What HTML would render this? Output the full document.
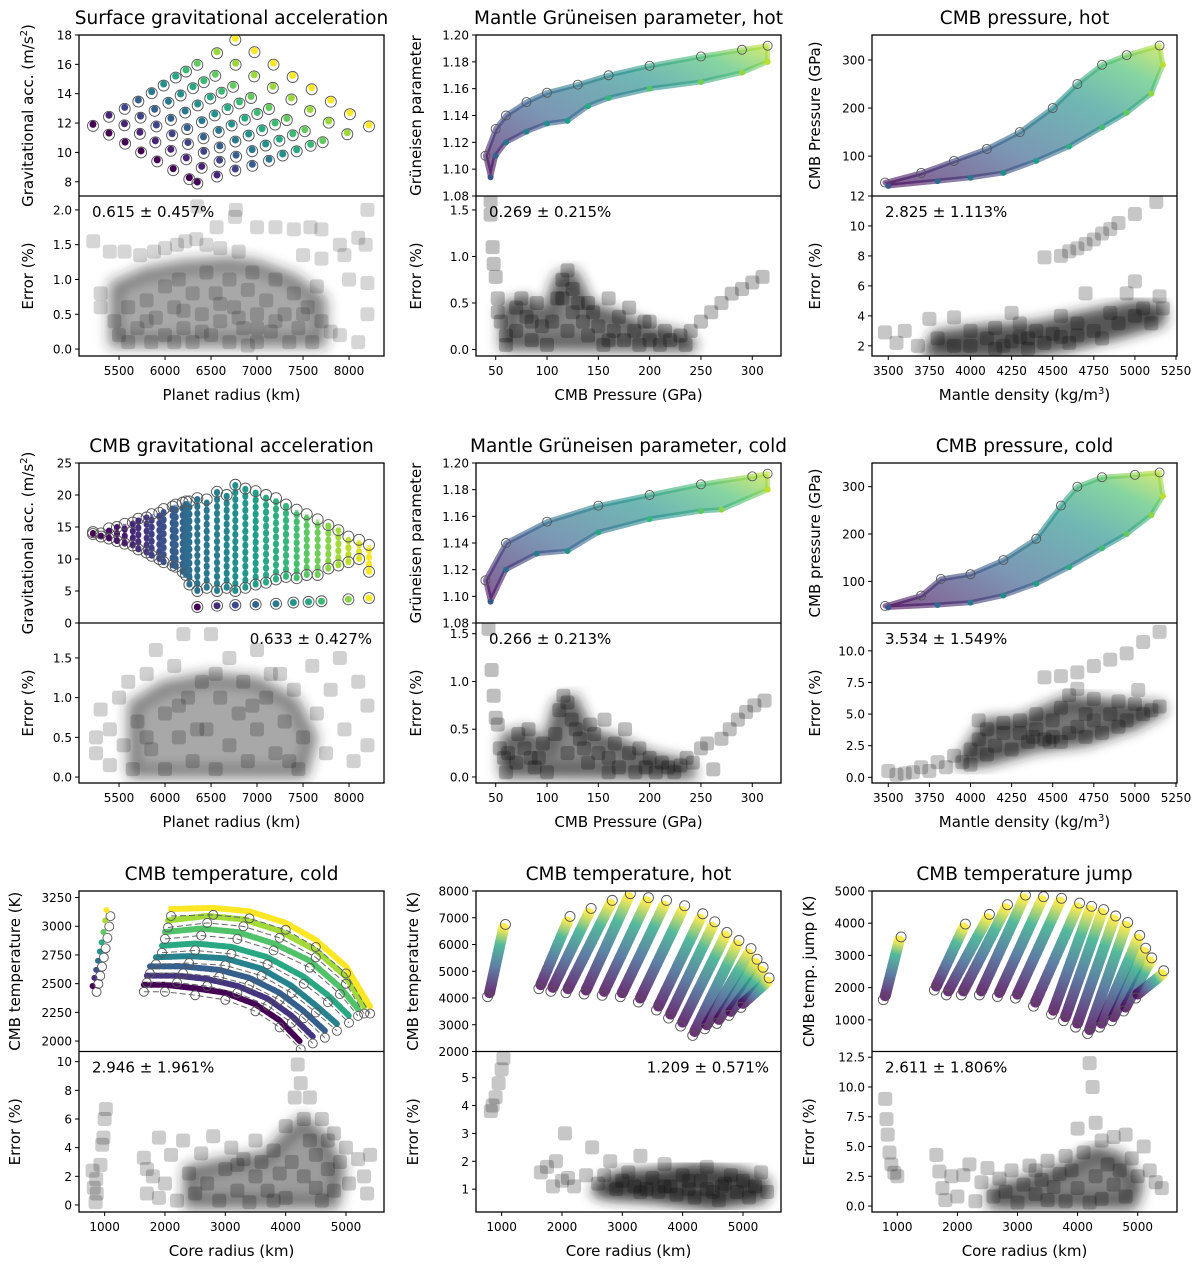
<!DOCTYPE html>
<html><head><meta charset="utf-8">
<style>
html,body{margin:0;padding:0;background:#fff;}
svg{display:block;font-family:"DejaVu Sans","Liberation Sans",sans-serif;}
</style></head>
<body>
<svg id="fig" width="1200" height="1265" viewBox="0 0 1200 1265" xmlns="http://www.w3.org/2000/svg">
<defs><filter id="soft" x="-20%" y="-20%" width="140%" height="140%"><feGaussianBlur stdDeviation="6"/></filter></defs>
</svg>
<script>
// ---------- DATA ----------
const p1R = [5217,5391,5566,5740,5915,6089,6264,6351, 5391,5559,5727,5895,6063,6231,6399,6565, 5562,5734,5906,6077,6249,6421,6593,6764, 5710,5887,6064,6241,6418,6595,6772,6949, 5855,6037,6219,6401,6583,6765,6947,7130, 5985,6170,6355,6540,6724,6909,7094,7279, 6116,6304,6492,6680,6867,7055,7243,7431, 6228,6422,6615,6809,7002,7196,7389,7583, 6351,6546,6740,6935,7130,7324,7519,7714, 6565,6767,6969,7172,7374,7576,7779,7981, 6764,6972,7179,7387,7594,7802,8010,8217];
const p1G = [11.91,11.31,10.70,10.10,9.49,8.89,8.28,7.98, 12.53,11.95,11.37,10.79,10.21,9.63,9.05,8.46, 13.07,12.47,11.87,11.27,10.67,10.07,9.47,8.87, 13.57,12.94,12.32,11.69,11.06,10.44,9.81,9.19, 14.14,13.48,12.82,12.16,11.50,10.84,10.19,9.53, 14.66,13.98,13.30,12.62,11.93,11.25,10.57,9.89, 15.2,14.48,13.77,13.05,12.33,11.61,10.90,10.18, 15.61,14.89,14.17,13.44,12.72,12.00,11.27,10.55, 16.07,15.32,14.57,13.81,13.06,12.31,11.55,10.80, 16.86,16.07,15.28,14.50,13.71,12.92,12.13,11.34, 17.77,16.93,16.08,15.24,14.40,13.56,12.71,11.87];
const p1C = [0,0,0,0,0,0,0,0, .1,.1,.1,.1,.1,.1,.1,.1, .2,.2,.2,.2,.2,.2,.2,.2, .3,.3,.3,.3,.3,.3,.3,.3, .4,.4,.4,.4,.4,.4,.4,.4, .5,.5,.5,.5,.5,.5,.5,.5, .6,.6,.6,.6,.6,.6,.6,.6, .68,.68,.68,.68,.68,.68,.68,.68, .76,.76,.76,.76,.76,.76,.76,.76, .85,.85,.85,.85,.85,.85,.85,.85, 1,1,1,1,1,1,1,1];
const p1ErrX = [5220,5400,5560,5730,5880,6000,6130,6220,6340,6560,6760,6350,6770,6450,6600,6800,7000,7200,7400,7580,7700,7900,8100,8200,8180,7500,7700,7950,8000,8200,8200,8100,7900,5300,5300,5450,5500,5600,5600,5700,5800,5850,5900,6000,6000,6100,6150,6200,6300,6300,6400,6450,6500,6550,6600,6700,6700,6750,6850,6900,6950,7000,7000,7100,7150,7200,7300,7350,7400,7450,7550,7600,7650,7700,7800,6200,6400,6600,6800,7000,7200,6100,6900,7500,5800];
const p1ErrY = [1.55,1.4,1.4,1.35,1.4,1.45,1.5,1.55,1.58,1.75,1.9,2.05,2.0,1.5,1.45,1.4,1.75,1.75,1.72,1.75,1.72,1.5,1.6,2.0,1.5,1.35,1.3,1.35,1.0,0.95,0.5,0.1,0.2,0.8,0.6,0.4,0.2,0.6,0.1,0.3,0.7,0.1,0.45,0.9,0.2,0.6,1.0,0.3,0.8,0.1,0.5,1.1,0.2,0.8,0.4,1.0,0.1,0.6,0.3,0.85,1.1,0.1,0.5,0.7,0.25,1.0,0.5,0.1,0.8,0.3,0.6,0.1,0.9,0.4,0.25,0.55,0.25,0.65,0.45,0.3,0.4,0.1,0.05,0.5,0.4];
const p1CoreX = [5450,5450,5800,6200,6700,7000,7400,7700,7700];
const p1CoreY = [0.1,0.9,1.1,1.2,1.25,1.2,1.0,0.7,0.1];

const p2UpX = [40,50,60,80,100,130,160,200,250,290,315];
const p2UpY = [1.11,1.13,1.14,1.15,1.157,1.163,1.17,1.177,1.184,1.189,1.192];
const p2LoX = [315,290,250,200,160,140,120,100,80,60,50,45];
const p2LoY = [1.18,1.172,1.165,1.16,1.153,1.147,1.136,1.134,1.128,1.12,1.11,1.094];
const p2ErrX = [45,45,47,48,50,52,52,55,60,60,70,70,75,80,85,90,95,100,105,110,115,120,125,125,130,135,140,145,150,155,160,165,170,175,180,185,190,195,200,210,215,220,230,235,240,250,260,270,280,290,300,310,115,85,140,120,160,200];
const p2ErrY = [1.6,1.45,1.1,0.92,0.78,0.55,0.4,0.3,0.15,0.05,0.45,0.2,0.55,0.35,0.1,0.5,0.25,0.05,0.3,0.55,0.75,0.85,0.65,0.4,0.5,0.3,0.15,0.4,0.25,0.05,0.55,0.2,0.35,0.1,0.45,0.2,0.05,0.3,0.1,0.05,0.2,0.1,0.15,0.05,0.2,0.3,0.4,0.5,0.6,0.65,0.72,0.78,0.55,0.3,0.5,0.2,0.1,0.3];
const p2CoreX = [60,60,80,100,112,125,140,170,200,235,240];
const p2CoreY = [0.05,0.45,0.5,0.35,0.75,0.8,0.45,0.35,0.2,0.12,0.04];

const p3UpX = [3480,3700,3900,4100,4300,4500,4650,4800,4950,5150];
const p3UpY = [45,65,90,115,150,200,250,290,310,330];
const p3LoX = [5170,5100,4950,4800,4600,4400,4200,4000,3800,3500];
const p3LoY = [290,230,190,160,120,90,65,55,48,38];
const p3ErrX = [3480,3550,3600,3680,3750,3800,3900,3900,4000,4000,4100,4150,4200,4250,4300,4350,4400,4450,4450,4550,4600,4650,4700,4750,4800,4850,4900,5000,5130,4500,4550,4600,4650,4700,4750,4800,4850,4900,4950,5000,5000,5050,5100,5150,5170,4350,4250,4150,4550,4650,4300];
const p3ErrY = [2.9,2.2,3.0,2.0,3.8,2.5,3.9,2.0,3.0,2.0,2.5,3.2,2.0,4.2,2.6,1.8,3.0,2.2,7.9,8.0,8.3,8.5,8.8,9.1,9.5,9.8,10.2,10.8,11.6,2.8,4.0,2.2,3.5,5.5,3.0,2.5,4.2,3.5,5.5,6.3,4.0,4.5,3.5,5.3,4.5,2.5,2.3,1.8,2.6,2.7,3.5];
const p3CoreX = [3750,3800,4100,4400,4700,5000,5150,5150,4900,4600,4300,4000];
const p3CoreY = [1.6,2.6,3.0,3.2,3.9,4.6,4.4,3.7,2.9,2.1,1.6,1.5];

const p4ColR = [5217,5304,5391,5478,5562,5650,5710,5800,5855,5938,5985,6083,6116,6192,6228,6265,6351,6453,6565,6670,6764,6873,6985,7098,7206,7315,7431,7540,7659,7775,7884,7993,8109,8217];
const p4ColTop = [14.2,14.0,14.8,15.0,15.5,15.7,16.3,16.5,17.0,17.2,17.8,18.2,18.5,18.8,19.0,19.0,19.5,19.3,20.5,20.0,21.6,21.0,20.6,20.0,19.5,18.5,17.7,17.0,16.2,15.3,14.5,13.5,13.0,12.2];
const p4ColBot = [13.9,13.5,13.2,12.8,12.4,12.1,11.5,11.0,10.5,10.0,9.5,9.0,8.8,8.0,7.5,6.0,5.0,5.5,5.0,5.5,5.0,5.5,6.0,6.3,6.8,7.2,7.0,7.5,7.5,8.5,9.0,9.5,10.0,8.0];
const p4ColC = [0,0.02,0.04,0.06,0.08,0.1,0.13,0.16,0.19,0.22,0.25,0.28,0.3,0.32,0.34,0.36,0.38,0.4,0.43,0.46,0.5,0.53,0.56,0.6,0.63,0.66,0.7,0.74,0.78,0.82,0.86,0.9,0.95,1];
const p4RowR = [6351,6565,6764,6985,7206,7395,7560,7700,7993,8217];
const p4RowG = [2.5,2.7,2.8,2.9,3.0,3.2,3.3,3.4,3.7,3.9];
const p4RowC = [0,0.12,0.22,0.32,0.42,0.52,0.6,0.68,0.82,1];
const p4ErrX = [5250,5250,5300,5400,5400,5500,5550,5600,5650,5700,5800,5850,5900,6000,6000,6100,6150,6200,6250,6300,6400,6450,6500,6550,6600,6700,6700,6800,6850,6900,7000,7000,7100,7200,7250,7300,7400,7450,7500,7600,7650,7750,7800,7900,7950,8050,8100,8200,8200,6150,6350,6550,6950,7150,7350,5800];
const p4ErrY = [0.3,0.5,0.85,0.15,0.6,1.0,0.4,1.2,0.1,0.7,1.3,0.35,1.6,0.8,0.1,1.4,0.5,1.8,1.0,0.2,1.2,0.6,1.8,0.1,1.0,1.5,0.4,0.8,1.2,0.2,1.6,0.6,1.0,0.3,1.3,0.7,1.1,0.1,0.5,1.4,0.8,0.3,1.1,1.5,0.6,0.2,1.2,0.9,0.4,0.9,0.6,1.3,0.9,1.3,0.2,0.5];
const p4CoreX = [5650,5650,6000,6500,7000,7400,7600,7500];
const p4CoreY = [0.05,0.9,1.15,1.25,1.2,0.95,0.5,0.05];

const p5UpX = [40,60,100,150,200,250,300,315];
const p5UpY = [1.112,1.14,1.156,1.168,1.176,1.184,1.19,1.192];
const p5LoX = [315,270,250,200,150,120,90,60,45];
const p5LoY = [1.18,1.165,1.164,1.158,1.148,1.134,1.132,1.12,1.096];
const p5ErrX = [43,46,48,50,52,54,58,60,62,70,72,78,82,88,92,96,100,108,112,116,120,124,128,132,136,140,146,150,156,160,166,170,176,180,186,190,196,200,206,212,218,224,230,236,242,250,256,262,270,278,286,294,302,312,120,84,142,160];
const p5ErrY = [1.55,1.12,0.85,0.62,0.55,0.3,0.2,0.05,0.25,0.15,0.45,0.3,0.5,0.1,0.2,0.35,0.05,0.45,0.7,0.85,0.78,0.6,0.5,0.4,0.3,0.15,0.45,0.25,0.6,0.2,0.35,0.1,0.5,0.25,0.05,0.3,0.1,0.2,0.05,0.15,0.1,0.05,0.12,0.2,0.15,0.3,0.35,0.08,0.4,0.5,0.6,0.68,0.75,0.8,0.25,0.2,0.55,0.05];
const p5CoreX = [60,60,80,100,112,125,140,170,200,235,240];
const p5CoreY = [0.05,0.4,0.45,0.3,0.75,0.8,0.45,0.35,0.2,0.12,0.04];

const p6UpX = [3480,3700,3820,4000,4200,4400,4550,4650,4800,5000,5150];
const p6UpY = [48,70,105,115,145,190,260,300,320,325,330];
const p6LoX = [5170,5100,4950,4800,4600,4400,4200,4000,3800,3500];
const p6LoY = [280,240,200,170,130,95,70,55,50,45];
const p6ErrX = [3500,3550,3600,3650,3700,3750,3800,3850,3900,3950,4000,4000,4050,4050,4100,4100,4150,4200,4200,4250,4300,4300,4350,4400,4400,4450,4500,4500,4550,4550,4600,4600,4650,4650,4700,4700,4750,4750,4800,4850,4900,4900,4950,5000,5050,5100,5150,4450,4550,4650,4750,4850,4950,5050,5150,5020,4480,4380];
const p6ErrY = [0.5,0.2,0.3,0.4,0.8,0.5,1.2,0.8,1.7,1.2,2.2,1.0,3.0,4.5,3.8,1.8,2.5,3.5,4.3,2.2,3.5,4.5,2.8,3.8,5.0,3.0,3.2,4.5,2.8,5.5,3.5,6.5,4.0,7.0,3.2,5.0,4.5,6.2,3.5,5.0,4.0,6.0,4.5,5.8,5.0,5.3,5.6,7.9,8.0,8.3,8.8,9.3,9.8,10.7,11.5,6.9,2.8,3.2];
const p6CoreX = [3950,4100,4300,4600,4900,5150,5000,4700,4400,4100];
const p6CoreY = [1.2,4.2,4.3,6.0,5.6,5.4,4.3,3.0,2.5,1.4];

const p7Arcs = [
  [1650,2490, 2000,2490, 2500,2460, 3000,2420, 3500,2320, 3900,2180, 4250,1990],
  [1700,2570, 2200,2570, 2700,2540, 3200,2480, 3700,2370, 4100,2220, 4450,2040],
  [1750,2650, 2300,2650, 2900,2620, 3400,2550, 3900,2420, 4300,2260, 4650,2090],
  [1850,2730, 2400,2740, 3000,2720, 3600,2630, 4100,2480, 4500,2310, 4850,2150],
  [1950,2830, 2500,2850, 3100,2820, 3700,2730, 4300,2560, 4700,2400, 5050,2220],
  [2000,2950, 2600,2980, 3200,2950, 3800,2850, 4400,2700, 4900,2470, 5200,2280],
  [2050,3050, 2700,3090, 3300,3060, 3900,2960, 4500,2790, 5000,2560, 5300,2300],
  [2100,3150, 2800,3160, 3400,3130, 4000,3030, 4500,2880, 5000,2650, 5400,2300]
];
const p7ArcC = [0,0.15,0.3,0.45,0.6,0.72,0.86,1];
const p7SmallX = [800,830,860,890,920,950,980,1010,1030];
const p7SmallY = [2480,2550,2620,2700,2780,2860,2950,3050,3140];
const p7SmallC = [0,0.12,0.25,0.37,0.5,0.62,0.75,0.87,1];
const p7ErrX = [800,820,850,860,930,960,980,1000,1020,870,1650,1700,1700,1800,1900,1900,2000,2100,2200,2300,2400,2500,2600,2700,2800,2900,3000,3100,3200,3300,3400,3500,3500,3600,3700,3800,3900,4000,4000,4100,4150,4200,4250,4300,4300,4400,4400,4500,4500,4600,4700,4700,4800,4800,4900,5000,5050,5200,5300,5350,5400,3800,4600,3200];
const p7ErrY = [2.4,1.2,0.2,1.8,2.8,4.2,4.7,6.0,6.7,0.8,3.3,2.5,0.8,2.0,4.7,0.5,1.5,3.5,0.3,4.5,2.2,0.8,3.6,1.5,4.8,0.3,2.5,4.0,1.0,3.2,0.2,2.0,4.5,3.0,1.0,3.8,2.2,5.5,0.5,3.0,7.5,9.8,8.5,6.0,2.0,4.5,7.5,1.2,3.5,6.0,2.5,4.5,1.0,5.0,3.0,4.0,1.5,3.2,2.0,0.8,3.5,0.3,0.3,2.8];
const p7CoreX = [2400,2400,3000,3700,4100,4300,4600,4900,4800];
const p7CoreY = [0.1,2.4,2.9,3.4,5.2,5.8,4.8,2.5,0.1];

const p8Strands = [[800,4200,1030,6600],[1650,4500,2100,6900],[1850,4400,2450,7200],[2100,4350,2800,7500],[2400,4300,3100,7750],[2700,4250,3400,7600],[3000,4200,3700,7500],[3300,4000,4000,7300],[3600,3700,4300,7000],[3800,3400,4500,6700],[4000,3100,4700,6300],[4200,2750,4900,6000],[4400,3000,5100,5700],[4600,3200,5200,5300],[4800,3500,5300,5000],[5000,3800,5400,4600]];
const p8ErrX = [820,850,900,950,1000,1030,1650,1750,1850,1900,2000,2050,2100,2200,2400,2500,2600,2800,2900,3100,3200,3300,3400,3500,3600,3700,3800,3900,4000,4100,4200,4300,4400,4500,4600,4700,4800,4900,5000,5100,5200,5300,5400,3000,3700,4100,4400,4650,2700,3300];
const p8ErrY = [3.8,4.0,4.3,4.8,5.3,5.7,1.6,1.8,1.1,2.0,1.3,3.0,1.4,1.1,1.5,2.5,1.2,2.0,1.0,1.6,1.1,2.2,1.0,1.4,0.9,1.9,1.1,0.8,1.5,1.0,0.7,1.3,1.8,0.9,0.6,1.2,1.5,0.9,1.3,0.7,1.1,1.6,0.9,1.3,1.1,1.3,1.0,1.1,1.5,0.9];
const p8CoreX = [2600,2900,3500,4200,5000,5350,5300,4500,3500,2800];
const p8CoreY = [0.95,1.4,1.5,1.7,1.5,1.15,0.75,0.5,0.75,0.85];

const p9Strands = [[800,1750,1030,3450],[1650,2050,2100,3850],[1850,1900,2500,4150],[2100,1900,2800,4450],[2400,1900,3100,4750],[2700,1850,3400,4700],[3000,1800,3700,4650],[3300,1550,4000,4500],[3600,1300,4200,4400],[3800,1100,4400,4300],[4000,900,4600,4100],[4200,700,4800,3900],[4400,900,5000,3500],[4600,1100,5100,3100],[4800,1400,5200,2800],[5000,1800,5400,2400]];
const p9ErrX = [800,820,840,870,900,950,1000,1650,1700,1750,1800,1900,2000,2100,2200,2300,2400,2500,2600,2700,2800,2900,3000,3100,3200,3300,3400,3500,3500,3600,3700,3800,3800,3900,4000,4000,4100,4200,4250,4300,4300,4400,4400,4500,4600,4600,4700,4800,4800,4900,5000,5100,5200,5300,5400,4200,3300];
const p9ErrY = [9.0,7.3,6.0,4.5,3.5,2.8,2.5,4.3,2.9,1.5,0.5,2.5,0.8,2.6,3.5,0.4,2.0,3.2,0.8,2.3,1.2,3.0,0.3,1.8,3.4,1.0,2.2,0.5,3.8,1.6,2.7,0.4,4.2,3.0,1.5,6.5,4.5,12.0,10.0,7.0,2.5,5.5,0.6,3.5,5.8,1.8,3.0,6.0,0.8,4.0,2.5,5.0,3.0,2.0,1.5,0.3,3.0];
const p9CoreX = [2600,2600,3200,3800,4300,4700,5000,4900];
const p9CoreY = [0.2,1.3,2.1,3.1,4.6,4.0,1.8,0.2];

const xtRadius = [5500,6000,6500,7000,7500,8000];
const xtPressure = [50,100,150,200,250,300];
const xtDensity = [3500,3750,4000,4250,4500,4750,5000,5250];
const xtCore = [1000,2000,3000,4000,5000];
const ytP1 = [8,10,12,14,16,18];
const etP1 = [0,0.5,1,1.5,2];           const etP1L = ["0.0","0.5","1.0","1.5","2.0"];
const ytGr = [1.08,1.10,1.12,1.14,1.16,1.18,1.20]; const ytGrL = ["1.08","1.10","1.12","1.14","1.16","1.18","1.20"];
const etGr = [0,0.5,1,1.5];             const etGrL = ["0.0","0.5","1.0","1.5"];
const ytPr = [100,200,300];
const etP3 = [2,4,6,8,10,12];
const ytP4 = [0,5,10,15,20,25];
const etP6 = [0,2.5,5,7.5,10];          const etP6L = ["0.0","2.5","5.0","7.5","10.0"];
const ytP7 = [2000,2250,2500,2750,3000,3250];
const etP7 = [0,2,4,6,8,10];
const ytP8 = [2000,3000,4000,5000,6000,7000,8000];
const etP8 = [1,2,3,4,5];
const ytP9 = [1000,2000,3000,4000,5000];
const etP9 = [0,2.5,5,7.5,10,12.5];     const etP9L = ["0.0","2.5","5.0","7.5","10.0","12.5"];

// ---------- helpers ----------
const NS = "http://www.w3.org/2000/svg";
const svg = document.getElementById('fig');
const defs = svg.querySelector('defs');
function mk(tag, attrs, parent){ const e=document.createElementNS(NS,tag); for(const k in attrs) e.setAttribute(k,attrs[k]); (parent||svg).appendChild(e); return e; }
const VIR = [[68,1,84],[72,40,120],[62,74,137],[49,104,142],[38,130,142],[31,158,137],[53,183,121],[109,205,89],[180,222,44],[253,231,37]];
function vir(t){ t=Math.max(0,Math.min(1,t)); const f=t*(VIR.length-1); const i=Math.min(VIR.length-2,Math.floor(f)); const u=f-i; const a=VIR[i],b=VIR[i+1]; return 'rgb('+a.map((v,k)=>Math.round(v+(b[k]-v)*u)).join(',')+')'; }
let gid=0;

function panel(cfg){
  const g = mk('g',{});
  
  
  const sx = v => cfg.L + (v-cfg.x0)/(cfg.x1-cfg.x0)*(cfg.R-cfg.L);
  const sy = v => cfg.M - (v-cfg.y0)/(cfg.y1-cfg.y0)*(cfg.M-cfg.T);
  const se = v => cfg.B - (v-cfg.e0)/(cfg.e1-cfg.e0)*(cfg.B-cfg.M);
  const clipId = 'c'+(gid++);
  const cp = mk('clipPath',{id:clipId},defs); mk('rect',{x:cfg.L,y:cfg.T,width:cfg.R-cfg.L,height:cfg.M-cfg.T},cp);
  const clipE = 'c'+(gid++);
  const cpe = mk('clipPath',{id:clipE},defs); mk('rect',{x:cfg.L,y:cfg.M,width:cfg.R-cfg.L,height:cfg.B-cfg.M},cpe);
  const top = mk('g',{'clip-path':'url(#'+clipId+')'},g);
  
  
  cfg.drawTop(top, sx, sy);
  const err = mk('g',{'clip-path':'url(#'+clipE+')'},g);
  
  
  let cpts=[]; for(let i=0;i<cfg.cx.length;i++) cpts.push(sx(cfg.cx[i])+','+se(cfg.cy[i]));
  const core = mk('polygon',{points:cpts.join(' '),fill:'#222','fill-opacity':cfg.co||0.5,stroke:'#222','stroke-opacity':cfg.co||0.5,'stroke-width':14,'stroke-linejoin':'round',filter:'url(#soft)'},err);
  
  
  for(let i=0;i<cfg.ex.length;i++){
    const r = mk('rect',{x:sx(cfg.ex[i])-7,y:se(cfg.ey[i])-7,width:14,height:14,rx:3,fill:'#000','fill-opacity':cfg.eo||0.2},err);
    
    
  }
  mk('rect',{x:cfg.L,y:cfg.T,width:cfg.R-cfg.L,height:cfg.B-cfg.T,fill:'none',stroke:'#000','stroke-width':1.3},g);
  mk('line',{x1:cfg.L,x2:cfg.R,y1:cfg.M,y2:cfg.M,stroke:'#000','stroke-width':1.3},g);
  cfg.xt.forEach(v=>{ const x=sx(v); mk('line',{x1:x,x2:x,y1:cfg.B,y2:cfg.B+4,stroke:'#000'},g);
    const t=mk('text',{x:x,y:cfg.B+19,'font-size':12,'text-anchor':'middle'},g); t.textContent=String(v);
      });
  cfg.yt.forEach((v,i)=>{ const y=sy(v); mk('line',{x1:cfg.L-4,x2:cfg.L,y1:y,y2:y,stroke:'#000'},g);
    const t=mk('text',{x:cfg.L-7,y:y+4.5,'font-size':12,'text-anchor':'end'},g); t.textContent=cfg.ytl?cfg.ytl[i]:String(v);
      });
  cfg.et.forEach((v,i)=>{ const y=se(v); mk('line',{x1:cfg.L-4,x2:cfg.L,y1:y,y2:y,stroke:'#000'},g);
    const t=mk('text',{x:cfg.L-7,y:y+4.5,'font-size':12,'text-anchor':'end'},g); t.textContent=cfg.etl?cfg.etl[i]:String(v);
      });
  const ti=mk('text',{x:(cfg.L+cfg.R)/2,y:cfg.T-11,'font-size':18.5,'text-anchor':'middle'},g); ti.textContent=cfg.title;
   
  const xl=mk('text',{x:(cfg.L+cfg.R)/2,y:cfg.B+44,'font-size':15,'text-anchor':'middle'},g); xl.innerHTML=cfg.xlabel;
   
  const yl=mk('text',{x:cfg.yx,y:(cfg.T+cfg.M)/2,'font-size':15,'text-anchor':'middle',transform:'rotate(-90 '+cfg.yx+' '+((cfg.T+cfg.M)/2)+')'},g); yl.innerHTML=cfg.ylabel;
   
  const el=mk('text',{x:cfg.yx,y:(cfg.M+cfg.B)/2,'font-size':15,'text-anchor':'middle',transform:'rotate(-90 '+cfg.yx+' '+((cfg.M+cfg.B)/2)+')'},g); el.textContent='Error (%)';
   
  const an=mk('text',{x:cfg.annRight?cfg.R-12:cfg.L+13,y:cfg.M+21,'font-size':15,'text-anchor':cfg.annRight?'end':'start'},g); an.textContent=cfg.ann;
   
}

function ring(p,x,y,r){ const c=mk('circle',{cx:x,cy:y,r:r||5,fill:'none',stroke:'#555','stroke-width':0.9},p);
    }
function dot(p,x,y,col,r){ const c=mk('circle',{cx:x,cy:y,r:r||3.2,fill:col},p);
    }

function band(upX,upY,loX,loY){
  return (p,sx,sy)=>{
    const id='gb'+(gid++);
    const lg=mk('linearGradient',{id:id,x1:0,y1:1,x2:1,y2:0},defs);
    [['0',vir(0)],['0.35',vir(0.3)],['0.65',vir(0.5)],['0.85',vir(0.7)],['1',vir(0.9)]].forEach(s=>mk('stop',{offset:s[0],'stop-color':s[1]},lg));
    let pts=[]; for(let i=0;i<upX.length;i++) pts.push(sx(upX[i])+','+sy(upY[i]));
    for(let i=0;i<loX.length;i++) pts.push(sx(loX[i])+','+sy(loY[i]));
    const pg=mk('polygon',{points:pts.join(' '),fill:'url(#'+id+')','fill-opacity':0.65,stroke:'url(#'+id+')','stroke-opacity':0.6,'stroke-width':5,'stroke-linejoin':'round'},p);
     
    for(let i=0;i<upX.length;i++) ring(p,sx(upX[i]),sy(upY[i]),4.5);
    for(let i=0;i<loX.length;i++) dot(p,sx(loX[i]),sy(loY[i]),vir(i/loX.length*0.2+ (1-i/loX.length)*0.9),3);
  };
}
function strands(list){
  return (p,sx,sy)=>{
    list.forEach(s=>{
      const x0=sx(s[0]),y0=sy(s[1]),x1=sx(s[2]),y1=sy(s[3]);
      const id='gs'+(gid++);
      const lg=mk('linearGradient',{id:id,gradientUnits:'userSpaceOnUse',x1:x0,y1:y0,x2:x1,y2:y1},defs);
      [['0',vir(0)],['0.4',vir(0.3)],['0.75',vir(0.6)],['1',vir(1)]].forEach(st=>mk('stop',{offset:st[0],'stop-color':st[1]},lg));
      const ln=mk('line',{x1:x0,y1:y0,x2:x1,y2:y1,stroke:'url(#'+id+')','stroke-width':11,'stroke-linecap':'round','stroke-opacity':0.8,'stroke-dasharray':'5 2'},p);
       
      ring(p,x0-2,y0+4,5); ring(p,x1+2,y1-4,5);
    });
  };
}

const C1={L:79,R:384}, C2={L:476,R:781}, C3={L:872,R:1177};
const R1={T:35,M:196,B:356}, R2={T:463,M:623,B:783}, R3={T:891,M:1051.5,B:1212};

panel(Object.assign({name:'surface-gravity-panel',title:'Surface gravitational acceleration',xlabel:'Planet radius (km)',ylabel:'Gravitational acc. (m/s<tspan dy="-6" font-size="10">2</tspan><tspan dy="6">)</tspan>',yx:33,
  x0:5065,x1:8380,y0:7.03,y1:18,e0:-0.1,e1:2.2,xt:xtRadius,yt:ytP1,et:etP1,etl:etP1L,ann:'0.615 ± 0.457%',ex:p1ErrX,ey:p1ErrY,eo:0.16,cx:p1CoreX,cy:p1CoreY,co:0.4,
  drawTop:(p,sx,sy)=>{ for(let i=0;i<p1R.length;i++){ ring(p,sx(p1R[i]),sy(p1G[i])+1.5,5.5); dot(p,sx(p1R[i]),sy(p1G[i]),vir(p1C[i]),3.5);} }},C1,R1));

panel(Object.assign({name:'gruneisen-hot-panel',title:'Mantle Grüneisen parameter, hot',xlabel:'CMB Pressure (GPa)',ylabel:'Grüneisen parameter',yx:421,
  x0:30.8,x1:328,y0:1.08,y1:1.20,e0:-0.07,e1:1.65,xt:xtPressure,yt:ytGr,ytl:ytGrL,et:etGr,etl:etGrL,ann:'0.269 ± 0.215%',ex:p2ErrX,ey:p2ErrY,eo:0.25,cx:p2CoreX,cy:p2CoreY,co:0.55,
  drawTop:band(p2UpX,p2UpY,p2LoX,p2LoY)},C2,R1));

panel(Object.assign({name:'cmb-pressure-hot-panel',title:'CMB pressure, hot',xlabel:'Mantle density (kg/m<tspan dy="-6" font-size="10">3</tspan><tspan dy="6">)</tspan>',ylabel:'CMB Pressure (GPa)',yx:820,
  x0:3401,x1:5256,y0:17,y1:352,e0:1.32,e1:12,xt:xtDensity,yt:ytPr,et:etP3,ann:'2.825 ± 1.113%',ex:p3ErrX,ey:p3ErrY,eo:0.22,cx:p3CoreX,cy:p3CoreY,co:0.65,
  drawTop:band(p3UpX,p3UpY,p3LoX,p3LoY)},C3,R1));

panel(Object.assign({name:'cmb-gravity-panel',title:'CMB gravitational acceleration',xlabel:'Planet radius (km)',ylabel:'Gravitational acc. (m/s<tspan dy="-6" font-size="10">2</tspan><tspan dy="6">)</tspan>',yx:33,
  x0:5065,x1:8380,y0:0,y1:25,e0:-0.075,e1:1.94,xt:xtRadius,yt:ytP4,et:etGr,etl:etGrL,ann:'0.633 ± 0.427%',annRight:true,ex:p4ErrX,ey:p4ErrY,eo:0.18,cx:p4CoreX,cy:p4CoreY,co:0.4,
  drawTop:(p,sx,sy)=>{
    for(let i=0;i<p4ColR.length;i++){ const x=sx(p4ColR[i]);
      const l=mk('line',{x1:x,x2:x,y1:sy(p4ColBot[i]),y2:sy(p4ColTop[i]),stroke:vir(p4ColC[i]),'stroke-width':6,'stroke-linecap':'round','stroke-dasharray':'1 6'},p);
       
      const l2=mk('line',{x1:x,x2:x,y1:sy(p4ColBot[i]),y2:sy(p4ColTop[i]),stroke:vir(p4ColC[i]),'stroke-width':3.5,'stroke-opacity':0.6},p);
       
      ring(p,x,sy(p4ColTop[i]),5.5); ring(p,x,sy(p4ColBot[i]),5.5); }
    for(let i=0;i<p4RowR.length;i++){ ring(p,sx(p4RowR[i]),sy(p4RowG[i]),5.5); dot(p,sx(p4RowR[i]),sy(p4RowG[i]),vir(p4RowC[i]),3.5); }
  }},C1,R2));

panel(Object.assign({name:'gruneisen-cold-panel',title:'Mantle Grüneisen parameter, cold',xlabel:'CMB Pressure (GPa)',ylabel:'Grüneisen parameter',yx:421,
  x0:30.8,x1:328,y0:1.08,y1:1.20,e0:-0.063,e1:1.612,xt:xtPressure,yt:ytGr,ytl:ytGrL,et:etGr,etl:etGrL,ann:'0.266 ± 0.213%',ex:p5ErrX,ey:p5ErrY,eo:0.25,cx:p5CoreX,cy:p5CoreY,co:0.55,
  drawTop:band(p5UpX,p5UpY,p5LoX,p5LoY)},C2,R2));

panel(Object.assign({name:'cmb-pressure-cold-panel',title:'CMB pressure, cold',xlabel:'Mantle density (kg/m<tspan dy="-6" font-size="10">3</tspan><tspan dy="6">)</tspan>',ylabel:'CMB pressure (GPa)',yx:820,
  x0:3401,x1:5256,y0:12,y1:350,e0:-0.45,e1:12.2,xt:xtDensity,yt:ytPr,et:etP6,etl:etP6L,ann:'3.534 ± 1.549%',ex:p6ErrX,ey:p6ErrY,eo:0.22,cx:p6CoreX,cy:p6CoreY,co:0.6,
  drawTop:band(p6UpX,p6UpY,p6LoX,p6LoY)},C3,R2));

panel(Object.assign({name:'cmb-temperature-cold-panel',title:'CMB temperature, cold',xlabel:'Core radius (km)',ylabel:'CMB temperature (K)',yx:20,
  x0:575,x1:5630,y0:1909,y1:3307,e0:-0.49,e1:10.71,xt:xtCore,yt:ytP7,et:etP7,ann:'2.946 ± 1.961%',ex:p7ErrX,ey:p7ErrY,eo:0.2,cx:p7CoreX,cy:p7CoreY,co:0.45,
  drawTop:(p,sx,sy)=>{
    p7Arcs.forEach((a,k)=>{ let pts=[]; for(let i=0;i<a.length;i+=2) pts.push(sx(a[i])+','+sy(a[i+1]));
      const pl=mk('polyline',{points:pts.join(' '),fill:'none',stroke:vir(p7ArcC[k]),'stroke-width':6,'stroke-linecap':'round','stroke-linejoin':'round','stroke-dasharray':'4 2'},p);
       
      let pts2=[]; for(let i=0;i<a.length;i+=2) pts2.push(sx(a[i])+','+(sy(a[i+1])+7));
      const pr=mk('polyline',{points:pts2.join(' '),fill:'none',stroke:'#666','stroke-width':1,'stroke-dasharray':'6 3'},p);
       
      for(let i=0;i<a.length;i+=2) ring(p,sx(a[i]),sy(a[i+1])+7,4.5); });
    for(let i=0;i<p7SmallX.length;i++){ ring(p,sx(p7SmallX[i])+4,sy(p7SmallY[i])+6,4.5); dot(p,sx(p7SmallX[i]),sy(p7SmallY[i]),vir(p7SmallC[i]),3); }
  }},C1,R3));

panel(Object.assign({name:'cmb-temperature-hot-panel',title:'CMB temperature, hot',xlabel:'Core radius (km)',ylabel:'CMB temperature (K)',yx:418,
  x0:575,x1:5630,y0:2000,y1:8000,e0:0.18,e1:5.94,xt:xtCore,yt:ytP8,et:etP8,ann:'1.209 ± 0.571%',annRight:true,ex:p8ErrX,ey:p8ErrY,eo:0.22,cx:p8CoreX,cy:p8CoreY,co:0.75,
  drawTop:strands(p8Strands)},C2,R3));

panel(Object.assign({name:'cmb-temperature-jump-panel',title:'CMB temperature jump',xlabel:'Core radius (km)',ylabel:'CMB temp. jump (K)',yx:814,
  x0:579,x1:5654,y0:18,y1:5000,e0:-0.5,e1:12.98,xt:xtCore,yt:ytP9,et:etP9,etl:etP9L,ann:'2.611 ± 1.806%',ex:p9ErrX,ey:p9ErrY,eo:0.22,cx:p9CoreX,cy:p9CoreY,co:0.55,
  drawTop:strands(p9Strands)},C3,R3));
</script>
</body></html>
